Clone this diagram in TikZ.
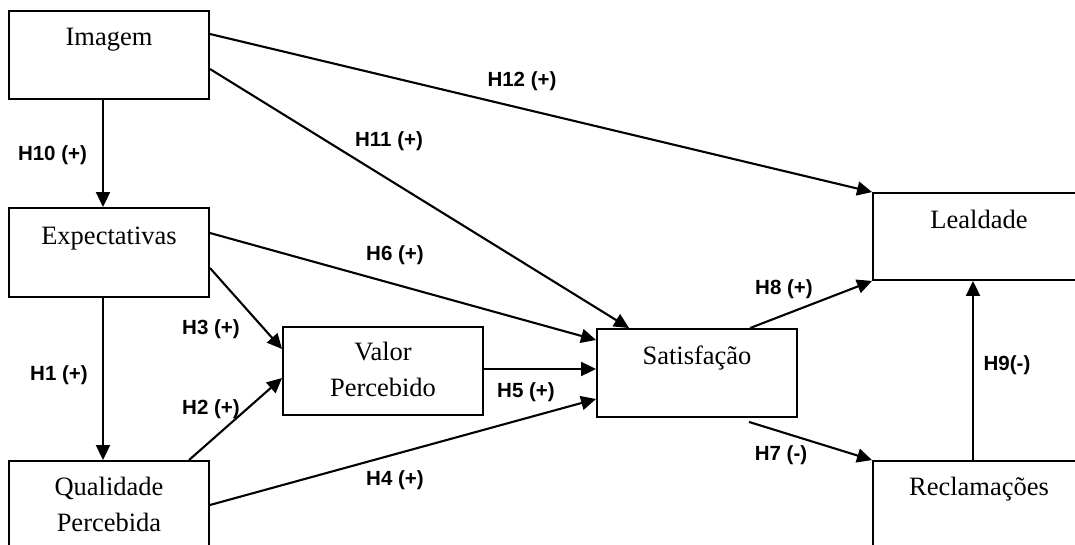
\documentclass[tikz,border=0pt]{standalone}
\usepackage{fontspec}
\setmainfont{Liberation Serif}
\newfontfamily\labfont{Liberation Sans}
\usetikzlibrary{arrows.meta}
\begin{document}
\begin{tikzpicture}[x=1pt,y=-1pt,
 box/.style={draw, line width=1.9pt, minimum width=200pt, minimum height=88pt, inner sep=0pt},
 txt/.style={font=\fontsize{26.5}{36}\selectfont, anchor=base, inner sep=0pt, align=center},
 hyp/.style={font=\labfont\bfseries\fontsize{20.5}{24}\selectfont, inner sep=0pt},
 arr/.style={line width=2.1pt, -{Triangle[length=15pt,width=14pt]}}]
\useasboundingbox (0,0) rectangle (1075,545);
\clip (0,0) rectangle (1075,545);
% boxes
\node[box] (img) at (109,55) {};
\node[box, minimum height=89pt] (exp) at (109,252.5) {};
\node[box] (qual) at (109,505) {};
\node[box] (val) at (383,371) {};
\node[box] (sat) at (697,373) {};
\node[box, minimum width=212pt, minimum height=87pt] (leal) at (979,236.5) {};
\node[box, minimum width=212pt] (recl) at (979,505) {};
% box texts (base anchor = baseline of the last line)
\node[txt] (timg) at ([yshift=-35pt]img.north) {Imagem};
\node[txt] (texp) at ([yshift=-37pt]exp.north) {Expectativas};
\node[txt] (tqual) at ([yshift=-71pt]qual.north) {Qualidade\\Percebida};
\node[txt] (tval) at ([yshift=-70pt]val.north) {Valor\\Percebido};
\node[txt] (tsat) at ([yshift=-36pt]sat.north) {Satisfação};
\node[txt] (tleal) at ([yshift=-36pt]leal.north) {Lealdade};
\node[txt] (trecl) at ([yshift=-35pt]recl.north) {Reclamações};
% connectors
\draw[arr] ([yshift=21pt]img.east) -- (leal.north west);
\draw[arr] ([yshift=-14pt]img.east) -- ([xshift=33pt]sat.north west);
\draw[arr] ([xshift=-6pt]img.south) -- ([xshift=-6pt]exp.north);
\draw[arr] ([xshift=-6pt]exp.south) -- ([xshift=-6pt]qual.north);
\draw[arr] ([yshift=19.5pt]exp.east) -- ([yshift=33pt]sat.west);
\draw[arr] ([yshift=-15.5pt]exp.east) -- ([yshift=22pt]val.west);
\draw[arr] ([xshift=80pt]qual.north) -- ([yshift=-7pt]val.west);
\draw[arr] (qual.east) -- ([yshift=-26pt]sat.west);
\draw[arr] ([yshift=2pt]val.east) -- ([yshift=2pt]val.east -| sat.west);
\draw[arr] ([xshift=154pt]sat.north west) -- (leal.south west);
\draw[arr] ([xshift=153pt,yshift=-4pt]sat.south west) -- (recl.north west);
\draw[arr] ([xshift=-6pt]recl.north) -- ([xshift=-6pt]leal.south);
% labels
\node[hyp] (h12) at (522,81) {H12 (+)};
\node[hyp] (h11) at (389,141) {H11 (+)};
\node[hyp] (h10) at (52.5,155) {H10 (+)};
\node[hyp] (h6) at (395,255) {H6 (+)};
\node[hyp] (h3) at (211,329) {H3 (+)};
\node[hyp] (h1) at (59,375) {H1 (+)};
\node[hyp] (h2) at (211,409) {H2 (+)};
\node[hyp] (h5) at (526,392) {H5 (+)};
\node[hyp] (h4) at (395,480) {H4 (+)};
\node[hyp] (h8) at (784,289) {H8 (+)};
\node[hyp] (h7) at (781,455) {H7 (-)};
\node[hyp] (h9) at (1007,365) {H9(-)};
\end{tikzpicture}
\end{document}
